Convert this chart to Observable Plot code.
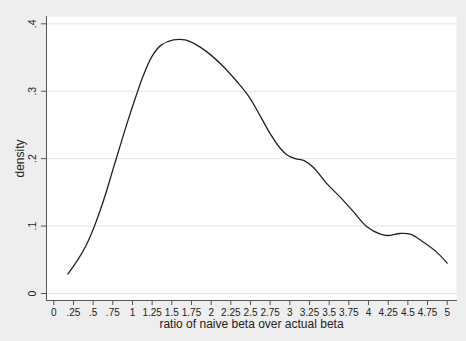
<!DOCTYPE html>
<html>
<head>
<meta charset="utf-8">
<script src="https://cdn.jsdelivr.net/npm/d3@7"></script>
<script src="https://cdn.jsdelivr.net/npm/@observablehq/plot@0.6"></script>
<style>
  html, body { margin: 0; padding: 0; background: #eeeeee; }
  svg { display: block; }
</style>
</head>
<body>
<div id="chart"></div>
<script>
const ratio = [0.18, 0.30, 0.40, 0.51, 0.635, 0.76, 0.93, 1.04, 1.14, 1.25, 1.36, 1.52, 1.67, 1.78, 1.95, 2.16, 2.33, 2.48, 2.63, 2.75, 2.88, 2.97, 3.07, 3.18, 3.30, 3.47, 3.64, 3.81, 3.98, 4.15, 4.24, 4.40, 4.53, 4.70, 4.87, 5.00];
const density = [0.029, 0.049, 0.069, 0.098, 0.139, 0.187, 0.252, 0.291, 0.324, 0.352, 0.368, 0.376, 0.376, 0.371, 0.358, 0.336, 0.314, 0.292, 0.262, 0.237, 0.215, 0.205, 0.200, 0.197, 0.187, 0.163, 0.143, 0.121, 0.099, 0.088, 0.086, 0.089, 0.088, 0.076, 0.061, 0.045];
const xTicks = [0, 0.25, 0.5, 0.75, 1, 1.25, 1.5, 1.75, 2, 2.25, 2.5, 2.75, 3, 3.25, 3.5, 3.75, 4, 4.25, 4.5, 4.75, 5];
const yTicks = [0, 0.1, 0.2, 0.3, 0.4];
const xTitle = "ratio of naive beta over actual beta";
const yTitle = "density";

const data = ratio.map((r, i) => ({ratio: r, density: density[i]}));
const fmt = d => d === 0 ? "0" : String(d).replace(/^0\./, ".");

const chart = Plot.plot({
  width: 466,
  height: 341,
  marginLeft: 46,
  marginRight: 10,
  marginTop: 16,
  marginBottom: 41,
  style: {background: "#eeeeee", fontFamily: "Liberation Sans, Arial, sans-serif", fontSize: "10px", color: "#222"},
  x: {domain: [0, 5], insetLeft: 7.3, insetRight: 9.3},
  y: {domain: [0, 0.4], insetTop: 7.3, insetBottom: 7},
  marks: [
    Plot.frame({fill: "white", stroke: "none"}),
    Plot.gridY(yTicks, {stroke: "#e4e4e4", strokeOpacity: 1, strokeWidth: 1}),
    Plot.frame({anchor: "left", stroke: "#555"}),
    Plot.frame({anchor: "bottom", stroke: "#555"}),
    Plot.axisY(yTicks, {tickFormat: fmt, tickSize: 5, tickPadding: 6, tickRotate: -90, stroke: "#555", label: null, fontSize: 10.5}),
    Plot.axisX(xTicks, {tickFormat: fmt, tickSize: 5, tickPadding: 3, stroke: "#555", label: null, fontSize: 10}),
    Plot.text([yTitle], {frameAnchor: "left", rotate: -90, dx: -26, textAnchor: "middle", lineAnchor: "middle", fontSize: 12, fill: "#222"}),
    Plot.text([xTitle], {frameAnchor: "bottom", dy: 24, textAnchor: "middle", lineAnchor: "middle", fontSize: 12, fill: "#222"}),
    Plot.line(data, {x: "ratio", y: "density", stroke: "#222", strokeWidth: 1.3, curve: "catmull-rom"})
  ]
});
document.getElementById("chart").appendChild(chart);
</script>
</body>
</html>
